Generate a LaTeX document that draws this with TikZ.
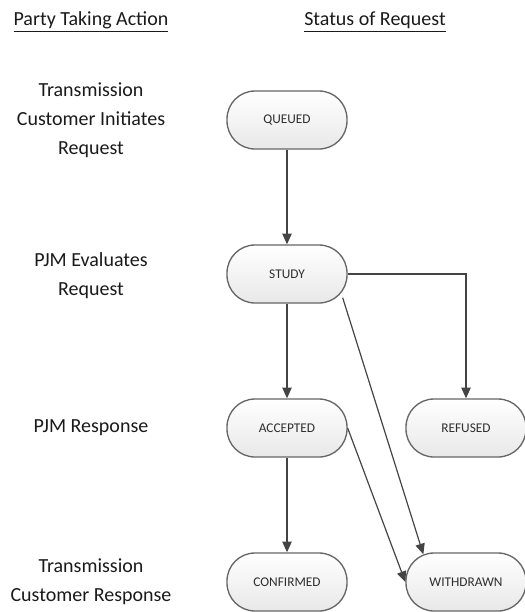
\documentclass[tikz,border=0pt]{standalone}
\usepackage{fontspec}
\setmainfont{Carlito}
\usetikzlibrary{arrows.meta}
\definecolor{txt}{HTML}{1A1A1A}
\definecolor{boxtxt}{HTML}{2E2E2E}
\definecolor{boxline}{HTML}{666666}
\definecolor{conn}{HTML}{444444}
\begin{document}
\begin{tikzpicture}[x=0.75pt,y=-0.75pt,
  state/.style={draw=boxline, line width=1pt, rounded corners=21pt,
    top color=white, bottom color=black!9, minimum width=90pt, minimum height=43.5pt,
    inner sep=0pt, text=boxtxt, font=\fontsize{10}{12}\selectfont},
  party/.style={align=center, text=txt, inner sep=0pt, font=\fontsize{15}{21.75}\selectfont},
  head/.style={text=txt, inner sep=0pt, font=\fontsize{15}{18}\selectfont},
  flow/.style={draw=conn, line width=0.9pt, -{Triangle[length=8pt,width=7pt]}}]
\useasboundingbox (0,0) rectangle (525,612);
% headings
\node[head] (h1) at (91,22) {\underline{Party Taking Action}};
\node[head] (h2) at (375,22) {\underline{Status of Request}};
% party labels
\node[party] (p1) at (91,120) {Transmission\\Customer Initiates\\Request};
\node[party] (p2) at (91,276) {PJM Evaluates\\Request};
\node[party] (p3) at (91,428) {PJM Response};
\node[party] (p4) at (91,582) {Transmission\\Customer Response};
% states
\node[state] (queued) at (287,120) {QUEUED};
\node[state] (study) at (287,274) {STUDY};
\node[state] (accepted) at (287,428) {ACCEPTED};
\node[state] (refused) at (466,428) {REFUSED};
\node[state] (confirmed) at (287,582) {CONFIRMED};
\node[state] (withdrawn) at (466,582) {WITHDRAWN};
% connectors
\draw[flow] (queued.south) -- (study.north);
\draw[flow] (study.south) -- (accepted.north);
\draw[flow] (study.east) -| (refused.north);
\draw[flow] (accepted.south) -- (confirmed.north);
\draw[flow] ([shift={(-5,-6)}]study.south east) -- ([shift={(18,2)}]withdrawn.north west);
\draw[flow] (accepted.east) -- (withdrawn.west);
\end{tikzpicture}
\end{document}
